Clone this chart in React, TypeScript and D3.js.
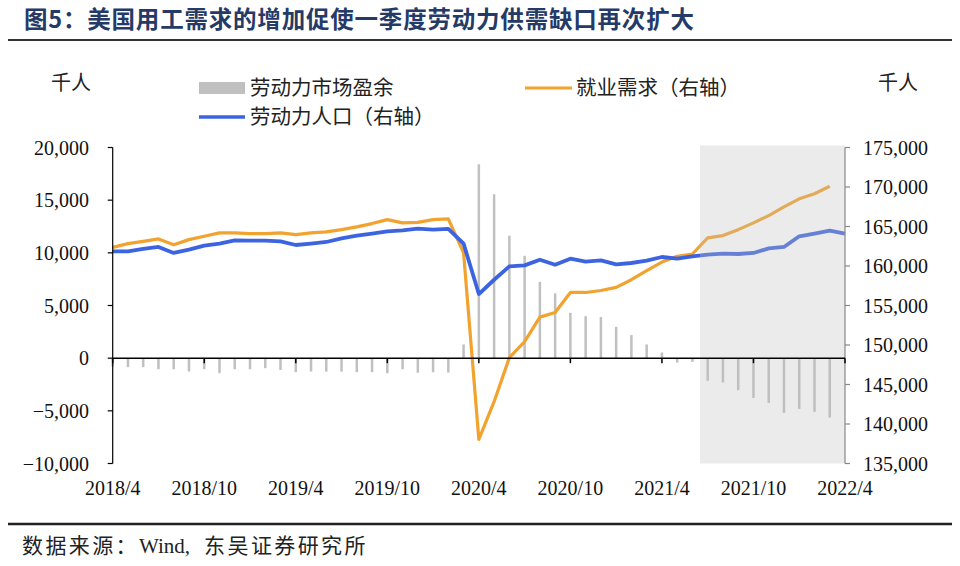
import React from "react";
import * as d3 from "d3";

// ---- data ----
const startYear = 2018;
const startMonth = 4;
const months: string[] = d3.range(49).map((i) => {
  const m = startMonth - 1 + i;
  return `${startYear + Math.floor(m / 12)}/${(m % 12) + 1}`;
});

// 劳动力市场盈余 (left axis, 千人)
const surplus: (number | null)[] = [
  -800, -850, -850, -1050, -1050, -1270, -1050, -1430, -1050,
  -1050, -950, -1110, -1330, -1270, -1270, -1270, -1330, -1330, -1430, -1050, -1380,
  -1330, -1360, 1300, 18410, 15560, 11630, 9720, 7250, 6150, 4310, 3990, 3900,
  2980, 2190, 1300, 540, -410, -350, -2150, -2310, -3040, -3770, -4250, -5200,
  -4820, -5100, -5640, null,
];

// 就业需求（右轴）
const demand: (number | null)[] = [
  162360, 162830, 163120, 163430, 162700, 163340, 163760, 164190, 164190,
  164100, 164100, 164190, 163970, 164190, 164310, 164600, 164950, 165370, 165875, 165460, 165530,
  165875, 165960, 161650, 138050, 142820, 148400, 150430, 153530, 154110, 156650, 156650, 156900,
  157290, 158260, 159400, 160500, 161220, 161520, 163550, 163850, 164600, 165460, 166380, 167490,
  168500, 169140, 170100, null,
];

// 劳动力人口（右轴）
const laborForce: (number | null)[] = [
  161850, 161850, 162160, 162410, 161650, 162070, 162580, 162830, 163250,
  163200, 163200, 163120, 162660, 162830, 163040, 163500, 163850, 164100, 164390, 164520, 164730,
  164600, 164690, 162830, 156450, 158260, 159950, 160080, 160800, 160160, 160930, 160550, 160710,
  160200, 160380, 160670, 161140, 160930, 161220, 161430, 161560, 161520, 161650, 162230, 162410,
  163760, 164100, 164480, 164100,
];

const xTickLabels = ["2018/4", "2018/10", "2019/4", "2019/10", "2020/4", "2020/10", "2021/4", "2021/10", "2022/4"];
const leftTicks = [20000, 15000, 10000, 5000, 0, -5000, -10000];
const rightTicks = [175000, 170000, 165000, 160000, 155000, 150000, 145000, 140000, 135000];
const shadeStart = "2021/6";
const shadeEnd = "2022/4";

// ---- styling ----
const NUM_FONT = "'Liberation Serif', 'Times New Roman', serif";
const CJK_FONT = "'Noto Sans CJK SC', 'Noto Sans', sans-serif";
const ORANGE = "#f2a22e";
const BLUE = "#3d64e0";
const BAR = "#c0c0c0";

export default function App() {
  const W = 960, H = 566;
  const x0 = 112.7, x1 = 845;
  const yTop = 147.5, yBot = 463.5;

  const x = d3.scaleLinear().domain([0, months.length - 1]).range([x0, x1]);
  const yL = d3.scaleLinear().domain([-10000, 20000]).range([yBot, yTop]);
  const yR = d3.scaleLinear().domain([135000, 175000]).range([yBot, yTop]);

  const lineGen = d3
    .line<number | null>()
    .defined((d) => d != null)
    .x((_, i) => x(i))
    .y((d) => yR(d as number));

  const fmt = d3.format(",");
  const idx = (m: string) => months.indexOf(m);
  const shadeX0 = x(idx(shadeStart) + 0.5);
  const shadeX1 = x(idx(shadeEnd));

  return (
    <svg width={W} height={H} style={{ position: "absolute", left: 0, top: 0, background: "#fff" }}>
      {/* title */}
      <text x={24} y={28} fontFamily={CJK_FONT} fontWeight={700} fontSize={23.5} letterSpacing={0.8} fill="#253a66">
        图5：美国用工需求的增加促使一季度劳动力供需缺口再次扩大
      </text>
      <line x1={8} x2={952} y1={40} y2={40} stroke="#333" strokeWidth={2} />

      {/* unit labels */}
      <text x={71} y={83} dy="0.35em" textAnchor="middle" fontFamily={CJK_FONT} fontSize={20} fill="#222">千人</text>
      <text x={898} y={83} dy="0.35em" textAnchor="middle" fontFamily={CJK_FONT} fontSize={20} fill="#222">千人</text>

      {/* legend */}
      <rect x={199} y={82} width={46} height={12} fill={BAR} />
      <text x={250} y={88} dy="0.35em" fontFamily={CJK_FONT} fontSize={20.5} fill="#222">劳动力市场盈余</text>
      <line x1={525} x2={572} y1={88} y2={88} stroke={ORANGE} strokeWidth={3} />
      <text x={576} y={88} dy="0.35em" fontFamily={CJK_FONT} fontSize={20.5} fill="#222">就业需求（右轴）</text>
      <line x1={199} x2={245} y1={117} y2={117} stroke={BLUE} strokeWidth={3.5} />
      <text x={250} y={117} dy="0.35em" fontFamily={CJK_FONT} fontSize={20.5} fill="#222">劳动力人口（右轴）</text>

      {/* bars */}
      {surplus.map((v, i) =>
        v == null ? null : (
          <rect
            key={"b" + i}
            x={x(i) - 1.25}
            width={2.5}
            y={Math.min(yL(v), yL(0))}
            height={Math.abs(yL(v) - yL(0))}
            fill={BAR}
          />
        )
      )}

      {/* lines */}
      <path d={lineGen(demand) || ""} fill="none" stroke={ORANGE} strokeWidth={3.2} strokeLinejoin="round" />
      <path d={lineGen(laborForce) || ""} fill="none" stroke={BLUE} strokeWidth={3.8} strokeLinejoin="round" />

      {/* shaded region */}
      <rect x={shadeX0} y={yTop - 2} width={shadeX1 - shadeX0} height={yBot - yTop + 2} fill="#bebebe" opacity={0.31} />

      {/* left axis */}
      <line x1={x0} x2={x0} y1={yTop} y2={yBot} stroke="#000" strokeWidth={1.2} />
      {leftTicks.map((t) => (
        <g key={"l" + t}>
          <line x1={x0 - 5} x2={x0} y1={yL(t)} y2={yL(t)} stroke="#000" strokeWidth={1.2} />
          <text x={89} y={yL(t)} dy="0.35em" textAnchor="end" fontFamily={NUM_FONT} fontSize={20} fill="#111">
            {fmt(t)}
          </text>
        </g>
      ))}

      {/* right axis */}
      <line x1={x1} x2={x1} y1={yTop} y2={yBot} stroke="#888" strokeWidth={1.2} />
      {rightTicks.map((t) => (
        <g key={"r" + t}>
          <line x1={x1} x2={x1 + 5} y1={yR(t)} y2={yR(t)} stroke="#888" strokeWidth={1.2} />
          <text x={863} y={yR(t)} dy="0.35em" textAnchor="start" fontFamily={NUM_FONT} fontSize={20} fill="#111">
            {fmt(t)}
          </text>
        </g>
      ))}

      {/* x axis */}
      <line x1={x0} x2={x1} y1={yL(0)} y2={yL(0)} stroke="#000" strokeWidth={1.5} />
      {xTickLabels.map((lab) => {
        const xi = x(idx(lab));
        return (
          <g key={"x" + lab}>
            <line x1={xi} x2={xi} y1={yL(0)} y2={yL(0) + 5} stroke="#000" strokeWidth={1.5} />
            <text x={xi} y={488} dy="0.35em" textAnchor="middle" fontFamily={NUM_FONT} fontSize={20} fill="#111">
              {lab}
            </text>
          </g>
        );
      })}

      {/* footer */}
      <line x1={8} x2={952} y1={524} y2={524} stroke="#222" strokeWidth={2.5} />
      <text x={22} y={546} dy="0.35em" fontFamily={CJK_FONT} fontSize={21} fill="#222">
        <tspan letterSpacing={2.4}>数据来源：</tspan>
        <tspan fontFamily={NUM_FONT}>Wind,</tspan>
        <tspan dx={14} letterSpacing={2.4}>东吴证券研究所</tspan>
      </text>
    </svg>
  );
}
